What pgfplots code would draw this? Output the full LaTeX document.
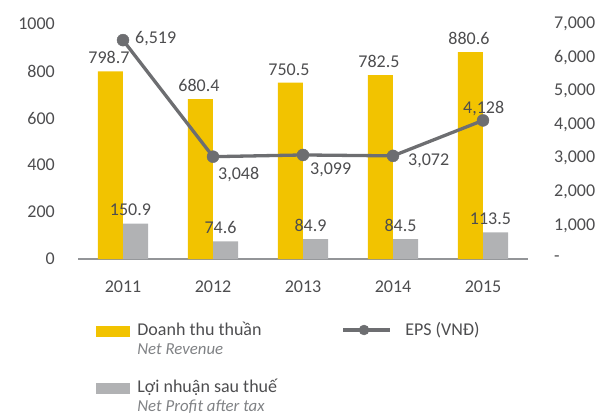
\documentclass[border=0pt]{standalone}
\usepackage{pgfplots}
\pgfplotsset{compat=1.18}
\usepackage{fontspec}
\setmainfont{Carlito}
\definecolor{cy}{HTML}{F2C300}
\definecolor{cg}{HTML}{B1B2B4}
\definecolor{ln}{HTML}{6D6E71}
\definecolor{txt}{HTML}{4D4D4F}
\definecolor{itc}{HTML}{808285}
\definecolor{axg}{HTML}{939598}
\newcommand{\en}[1]{{\fontsize{16.8}{20}\selectfont\itshape\color{itc}#1}}
\begin{document}
\fontsize{18}{20}\selectfont
\begin{tikzpicture}
\useasboundingbox (0pt,0pt) rectangle (596pt,417pt);
\begin{axis}[
  at={(78pt,158pt)}, anchor=south west,
  width=450pt, height=235pt, scale only axis,
  xmin=-0.5, xmax=4.5, ymin=0, ymax=1000,
  axis x line*=bottom, axis y line*=left,
  x axis line style={-, draw=axg, line width=1.3pt},
  y axis line style={draw=none},
  major tick length=0pt, tick style={draw=none},
  ytick={0,200,400,600,800,1000},
  xtick={0,1,2,3,4}, xticklabels={2011,2012,2013,2014,2015},
  /pgf/number format/assume math mode=true,
  /pgf/number format/1000 sep={},
  yticklabel style={anchor=east, inner sep=0pt, xshift=-23pt, text=txt},
  xticklabel style={anchor=base, inner sep=0pt, yshift=-33pt, text=txt},
  legend columns=2,
  legend style={at={(0.04,-0.2681)}, anchor=north west, draw=none, fill=none,
    inner sep=0pt, outer sep=0pt, column sep=0pt, row sep=0pt,
    nodes={inner sep=0pt, text=txt, text height=13pt, text depth=6pt}, cells={anchor=base west}},
]
\addplot[forget plot, ybar, bar width=0.2778, bar shift=-0.139, fill=cy, draw=none,
  point meta=explicit symbolic, nodes near coords,
  nodes near coords style={anchor=base, inner sep=0pt, yshift=7.5pt, xshift=-14pt, text=txt}]
  table[meta=l] {
x y l
0 798.7 798.7
1 680.4 680.4
2 750.5 750.5
3 782.5 782.5
4 880.6 880.6
};
\addplot[forget plot, ybar, bar width=0.2778, bar shift=0.139, fill=cg, draw=none,
  point meta=explicit symbolic, nodes near coords,
  nodes near coords style={anchor=base, inner sep=0pt, yshift=8pt, xshift=7.5pt, text=txt}]
  table[meta=l] {
x y l
0 150.9 150.9
1 74.6 74.6
2 84.9 84.9
3 84.5 84.5
4 113.5 113.5
};
\addlegendimage{legend image code/.code={\fill[cy] (0pt,-1pt) rectangle (33pt,9pt); \path (41pt,0pt);}}
\addlegendentry{\makebox[204pt][l]{Doanh thu thuần}}
\addlegendimage{legend image code/.code={\draw[ln, line width=3.3pt] (0pt,5pt) -- (47pt,5pt); \fill[ln] (21pt,5pt) circle (5pt); \path (62pt,0pt);}}
\addlegendentry{EPS (VNĐ)}
\addlegendimage{empty legend}
\addlegendentry{\en{Net Revenue}}
\addlegendimage{empty legend}
\addlegendentry{}
\addlegendimage{empty legend}
\addlegendentry{}
\addlegendimage{empty legend}
\addlegendentry{}
\addlegendimage{legend image code/.code={\fill[cg] (0pt,-1pt) rectangle (33pt,9pt); \path (41pt,0pt);}}
\addlegendentry{Lợi nhuận sau thuế}
\addlegendimage{empty legend}
\addlegendentry{}
\addlegendimage{empty legend}
\addlegendentry{\en{Net Profit after tax}}
\end{axis}
\begin{axis}[
  at={(78pt,158pt)}, anchor=south west,
  width=450pt, height=235pt, scale only axis,
  xmin=-0.5, xmax=4.5, ymin=0, ymax=7000,
  axis x line=none, axis y line*=right,
  y axis line style={draw=none},
  major tick length=0pt, tick style={draw=none},
  ytick={0,1000,2000,3000,4000,5000,6000,7000},
  yticklabels={{-},{1,000},{2,000},{3,000},{4,000},{5,000},{6,000},{7,000}},
  yticklabel style={anchor=west, inner sep=0pt, xshift=26pt, text=txt},
]
\addplot[color=ln, line width=3.3pt, mark=*, mark size=6pt,
  mark options={solid, fill=ln, draw=ln, line width=0.4pt},
  point meta=explicit symbolic, nodes near coords,
  visualization depends on={\thisrow{dx}\as\dx},
  visualization depends on={\thisrow{dy}\as\dy},
  nodes near coords style={anchor=base west, inner sep=0pt, xshift=\dx pt, yshift=\dy pt, text=txt}]
  table[meta=l] {
x y l dx dy
0 6519 {6,519} 12 -3
1 3048 {3,048} 5 -23
2 3099 {3,099} 7 -20
3 3072 {3,072} 15 -10
4 4128 {4,128} -20 7
};
\end{axis}
\end{tikzpicture}
\end{document}
